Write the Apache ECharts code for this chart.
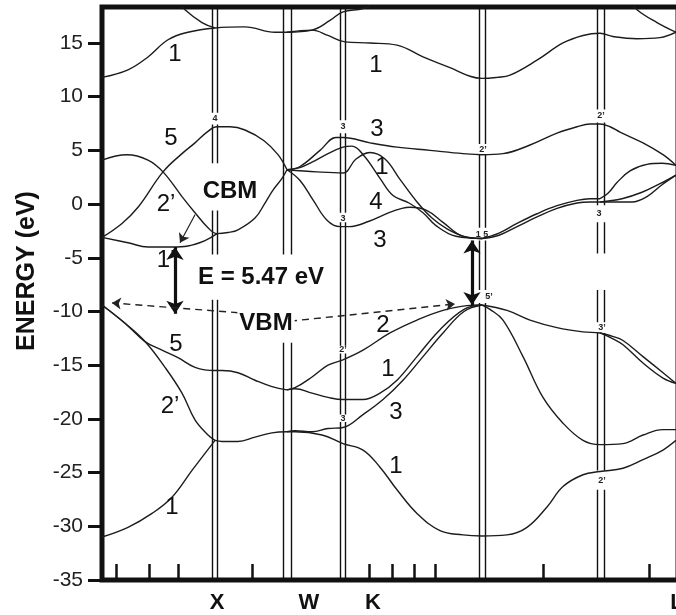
<!DOCTYPE html>
<html>
<head>
<meta charset="utf-8">
<title>Band structure</title>
<script src="https://cdn.jsdelivr.net/npm/echarts@6/dist/echarts.min.js"></script>
<style>
  * { margin: 0; padding: 0; }
  body { background: #fff; }
  #main { width: 676px; height: 615px; }
</style>
</head>
<body>
<div id="main"></div>
<script>
// k along the path in arbitrary units (left edge = Gamma = 0); energies in eV
var kTicks = [14, 47, 76, 150, 267, 290, 312, 333, 441, 547];
var kLabelPos = [115, 207, 271, 575];
var kLabelText = ['X', 'W', 'K', 'L'];
var eTicks = [-35, -30, -25, -20, -15, -10, -5, 0, 5, 10, 15];

// --- conduction / upper bands ---
var topBand = [[0,11.8],[26,12.5],[46,13.7],[66,15.3],[86,16.0],[113,16.4],[143,16.5],[173,16.0],[185,16.0]];
var topEnter = [[75,19.0],[83,18.1],[100,16.9],[113,16.4]];
var wkTopUp = [[185,16.0],[210,16.2],[228,17.1],[241,17.9],[261,18.2],[275,18.8],[285,19.5]];
var wkTopDown = [[185,16.0],[210,16.2],[226,15.7],[243,15.1],[268,15.0],[295,14.8],[321,13.7],[348,12.7],[368,11.9],[380,11.7],
                 [395,11.8],[408,12.0],[435,13.4],[461,15.0],[481,15.7],[498,15.9],[511,15.6],[535,15.4],[558,15.5],[574,16.0]];
var rightEnter = [[525,19.2],[535,18.1],[555,16.9],[574,16.0]];

var gxFive = [[0,-3.1],[20,-1.8],[36,-0.3],[61,3.0],[80,4.7],[93,5.7],[105,6.7],[115,7.2],[128,7.2],[143,6.9],[162,5.9],[176,4.6],[185,3.2]];
var gxTwo = [[0,4.1],[25,4.6],[46,4.1],[61,3.0],[80,0.7],[93,-0.8],[106,-2.2],[115,-2.75],[126,-2.65],[136,-2.4],[153,-1.3],[163,0.1],[171,1.3],[180,2.4],[185,3.2]];
var gxOne = [[0,-3.1],[26,-3.6],[46,-4.0],[70,-4.0],[86,-3.9],[103,-3.4],[115,-2.75]];

var cThree = [[185,3.2],[198,3.5],[218,5.0],[234,6.2],[241,6.2],[268,5.7],[295,5.3],[328,5.0],[361,4.7],[380,4.6],
              [401,4.7],[428,5.5],[455,6.6],[475,7.2],[488,7.45],[498,7.45],[508,7.2],[518,6.7],[541,5.7],[561,4.6],[574,3.6]];
var cFour = [[185,3.2],[198,3.4],[210,3.9],[226,4.7],[241,5.3],[250,5.4],[262,4.5],[278,2.4],[291,0.8],[307,0.1],[321,-0.8],[334,-2.0],[354,-3.0],[380,-3.2]];
var cOne = [[185,3.2],[215,3.0],[241,2.9],[254,4.2],[268,4.8],[283,4.2],[298,2.3],[315,0.2],[330,-1.3],[345,-2.3],[362,-3.0],[380,-3.2]];
var cThreeLow = [[185,3.2],[198,2.2],[211,0.4],[225,-1.5],[238,-2.1],[247,-2.1],[267,-1.6],[287,-0.8],[300,-0.4],[308,-0.3],[325,-0.6],[341,-1.7],[361,-3.0],[380,-3.2]];
var glCondA = [[380,-3.2],[397,-2.9],[415,-2.1],[435,-1.2],[455,-0.4],[475,0.1],[488,0.2],[498,0.2]];
var glCondB = [[380,-3.2],[397,-2.7],[415,-1.8],[435,-0.9],[455,-0.15],[475,0.35],[488,0.5],[498,0.5]];
var leA = [[498,0.5],[506,1.0],[515,2.0],[528,3.1],[545,3.7],[560,3.8],[574,3.6]];
var leB = [[498,0.2],[520,0.5],[540,1.1],[558,1.9],[574,2.7]];
var leC = [[498,0.2],[530,0.2],[545,0.7],[560,1.8],[574,2.7]];

// --- valence bands ---
var vFive = [[0,-9.4],[23,-11.1],[43,-12.8],[60,-13.6],[76,-14.3],[93,-15.2],[113,-15.5],[120,-15.5],[136,-15.7],[153,-16.4],[170,-17.0],[185,-17.3]];
var vTwo = [[0,-9.4],[23,-11.1],[43,-12.8],[63,-15.2],[80,-17.6],[93,-20.1],[106,-21.5],[113,-22.0]];
var vOne = [[0,-31.0],[26,-30.1],[50,-28.8],[70,-27.3],[90,-24.8],[113,-22.0]];
var xwLow = [[113,-22.0],[120,-22.1],[136,-22.1],[153,-21.7],[170,-21.3],[185,-21.2]];
var kgTwo = [[185,-17.3],[193,-17.1],[210,-16.1],[226,-15.0],[241,-14.5],[261,-13.6],[288,-12.0],[315,-10.8],[341,-9.9],[365,-9.45],[380,-9.4]];
var kgOne = [[185,-17.3],[193,-17.2],[210,-17.6],[226,-18.0],[241,-18.2],[261,-18.2],[278,-17.6],[295,-16.4],[315,-14.2],[338,-11.7],[362,-9.8],[380,-9.4]];
var kgThree = [[185,-21.2],[193,-21.1],[210,-21.2],[226,-20.9],[241,-20.8],[261,-19.6],[281,-18.2],[301,-16.4],[321,-14.2],[341,-12.0],[362,-10.0],[380,-9.4]];
var lowest = [[185,-21.2],[193,-21.2],[220,-21.5],[241,-22.3],[261,-22.9],[278,-24.5],[295,-26.6],[315,-28.8],[338,-30.4],[361,-30.8],[380,-30.9],
              [405,-30.8],[425,-30.1],[445,-28.2],[461,-26.3],[481,-25.2],[498,-24.9],[521,-24.6],[541,-23.8],[561,-22.9],[574,-22.0]];
var glSteep = [[380,-9.4],[388,-9.8],[401,-10.8],[421,-14.2],[441,-18.0],[461,-20.4],[481,-22.0],[498,-22.4],[521,-22.3],[541,-21.5],[561,-21.0],[574,-21.0]];
var glGentle = [[380,-9.4],[405,-9.9],[428,-10.8],[455,-11.5],[481,-11.9],[498,-12.0],[510,-12.3],[521,-12.7],[541,-14.2],[561,-15.7],[574,-16.7]];
var leLow = [[498,-12.0],[510,-12.5],[521,-13.1],[541,-14.8],[561,-16.2],[574,-16.7]];

// double vertical lines at the symmetry points, drawn in pieces
var railK = [[110,115],[181,189],[238,243],[377,383],[495,502]];
var railSegs = [
  [[18.4,8.5],[7.4,3.8],[-0.6,-4.7],[-8.9,-35]],
  [[18.4,-4.7],[-12.9,-35]],
  [[18.4,7.8],[6.6,-0.8],[-1.7,-13.2],[-13.9,-19.6],[-20.3,-35]],
  [[18.4,5.6],[4.6,-2.2],[-3.4,-8.0],[-9.2,-35]],
  [[18.4,8.8],[7.6,-0.1],[-1.7,-4.6],[-8.0,-11.0],[-12.0,-24.8],[-26.6,-35]]
];

// small symmetry labels on the double lines
var symText = ['4','2\u2019','1 5','5\u2019','2\u2019','3','3\u2019','2\u2019','3','3','2\u2019','3'];
var symK = [113,381,380,387,499,497,500,500,241,241,241,241];
var symE = [8.0,5.1,-2.8,-8.6,8.2,-0.9,-11.5,-25.7,7.2,-1.3,-13.5,-20.0];

// band index labels
var noteText = ['1','5','2\u2019','1\u2019','5','2\u2019','1','1','3','1','4','3','2','1','3','1'];
var noteK = [73,69,64,64,74,68,70,274,275,280,274,278,281,286,294,294];
var noteE = [13.9,6.1,0.0,-5.2,-13.1,-18.8,-28.2,12.9,7.0,3.4,0.2,-3.4,-11.3,-15.4,-19.4,-24.4];

// boxed annotations
var boxText = ['CBM', 'E = 5.47 eV', 'VBM'];
var boxK = [128, 159, 164];
var boxE = [1.2, -6.8, -11.1];

// arrows: [k1, E1, k2, E2]
var gapArrows = [[73,-4.0,73,-10.2],[370,-3.4,370,-9.4]];
var cbmArrow = [[93,-1.0,78,-3.6]];
var vbmArrows = [[148,-10.2,10,-9.2],[188,-10.9,353,-9.3]];

var FONT = '"Liberation Sans", Arial, sans-serif';
var INK = '#1c1c1c';

var chart = echarts.init(document.getElementById('main'));

var bandList = [topBand, topEnter, wkTopUp, wkTopDown, rightEnter, gxFive, gxTwo, gxOne,
  cThree, cFour, cOne, cThreeLow, glCondA, glCondB, leA, leB, leC,
  vFive, vTwo, vOne, xwLow, kgTwo, kgOne, kgThree, lowest, glSteep, glGentle, leLow];

var series = [];
bandList.forEach(function (b) {
  series.push({
    type: 'line', data: b, smooth: 0.4, showSymbol: false, silent: true,
    lineStyle: { color: INK, width: 1.4 }, z: 3
  });
});

var railData = [];
railK.forEach(function (pair, i) {
  pair.forEach(function (k) {
    railSegs[i].forEach(function (s) {
      railData.push({ coords: [[k, s[0]], [k, s[1]]] });
    });
  });
});
series.push({
  type: 'lines', coordinateSystem: 'cartesian2d', data: railData, silent: true,
  symbol: 'none', lineStyle: { color: '#111', width: 1.4, opacity: 1 }, z: 2
});

function arrowData(list) {
  return list.map(function (a) { return { coords: [[a[0], a[1]], [a[2], a[3]]] }; });
}
series.push({
  type: 'lines', coordinateSystem: 'cartesian2d', data: arrowData(gapArrows), silent: true,
  symbol: ['arrow', 'arrow'], symbolSize: 13,
  lineStyle: { color: '#111', width: 3.2, opacity: 1 }, z: 5
});
series.push({
  type: 'lines', coordinateSystem: 'cartesian2d', data: arrowData(cbmArrow), silent: true,
  symbol: ['none', 'arrow'], symbolSize: 9,
  lineStyle: { color: '#222', width: 1.2, opacity: 1 }, z: 5
});
series.push({
  type: 'lines', coordinateSystem: 'cartesian2d', data: arrowData(vbmArrows), silent: true,
  symbol: ['none', 'arrow'], symbolSize: 9,
  lineStyle: { color: '#222', width: 1.4, type: [7, 5], opacity: 1 }, z: 5
});

function textSeries(texts, ks, es, label, z) {
  return {
    type: 'scatter', silent: true, symbolSize: 1, z: z,
    itemStyle: { color: 'rgba(0,0,0,0)', opacity: 1 },
    data: texts.map(function (t, i) { return { name: t, value: [ks[i], es[i]] }; }),
    label: Object.assign({ show: true, position: 'inside', formatter: '{b}', opacity: 1,
                           textBorderWidth: 0 }, label)
  };
}
series.push(textSeries(symText, symK, symE,
  { fontSize: 9, fontWeight: 'bold', color: '#222', fontFamily: FONT }, 6));
series.push(textSeries(noteText, noteK, noteE,
  { fontSize: 24, color: '#111', fontFamily: FONT }, 7));
series.push(textSeries(boxText, boxK, boxE,
  { fontSize: 24, fontWeight: 'bold', color: '#111', fontFamily: FONT,
    backgroundColor: '#fff', padding: [1, 2] }, 8));

chart.setOption({
  animation: false,
  backgroundColor: '#fff',
  grid: { left: 102, right: -2, top: 7, bottom: 35, show: true, borderColor: '#111', borderWidth: 5,
          outerBoundsMode: 'none', containLabel: false },
  xAxis: {
    type: 'value', min: 0, max: 576,
    axisLine: { show: false, onZero: false },
    splitLine: { show: false },
    axisTick: { show: true, inside: true, length: 16, customValues: kTicks, lineStyle: { color: '#111', width: 2.5 } },
    axisLabel: {
      customValues: kLabelPos, margin: 12,
      formatter: function (v) { return kLabelText[kLabelPos.indexOf(v)] || ''; },
      fontSize: 22, fontWeight: 'bold', color: '#111', fontFamily: FONT
    }
  },
  yAxis: {
    type: 'value', min: -35, max: 18.35,
    axisLine: { show: false, onZero: false },
    splitLine: { show: false },
    axisTick: { show: true, length: 14, customValues: eTicks, lineStyle: { color: '#111', width: 3 } },
    axisLabel: { customValues: eTicks, margin: 19, fontSize: 21, color: '#222', fontFamily: FONT }
  },
  graphic: [{
    type: 'text', x: 27, y: 271, rotation: Math.PI / 2,
    style: { text: 'ENERGY (eV)', font: 'bold 25px "Liberation Sans", Arial, sans-serif',
             fill: '#111', align: 'center', verticalAlign: 'middle' }
  }],
  series: series
});
window.onresize = chart.resize;
</script>
</body>
</html>
